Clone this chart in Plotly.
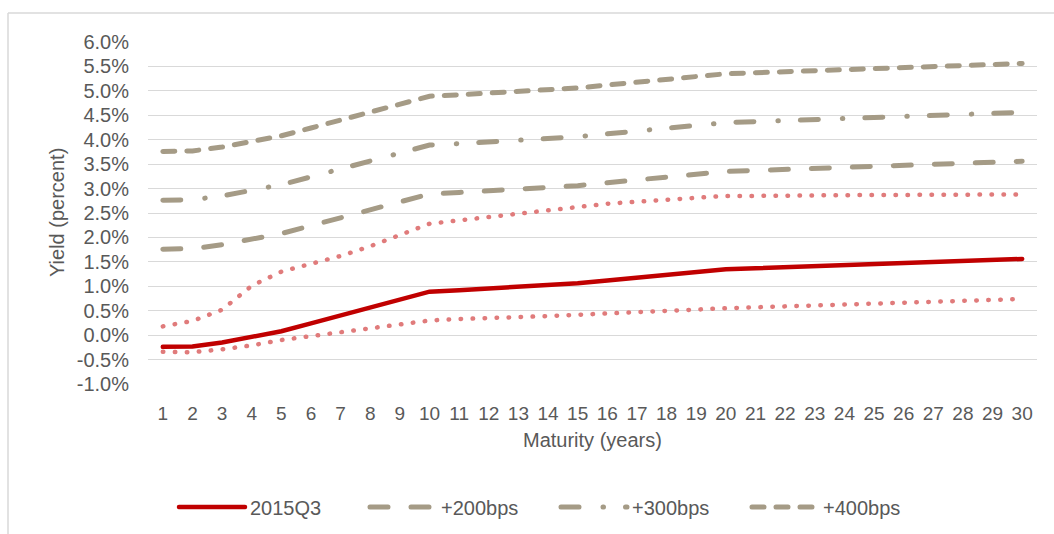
import plotly.graph_objects as go

maturity = [str(i) for i in range(1, 31)]
y_ticks = [-1.0, -0.5, 0.0, 0.5, 1.0, 1.5, 2.0, 2.5, 3.0, 3.5, 4.0, 4.5, 5.0, 5.5, 6.0]

base_2015q3 = [-0.24, -0.23, -0.15, -0.04, 0.08, 0.24, 0.40, 0.56, 0.72, 0.89,
               0.92, 0.95, 0.98, 1.02, 1.06, 1.12, 1.18, 1.24, 1.29, 1.35,
               1.37, 1.39, 1.41, 1.43, 1.45, 1.47, 1.49, 1.51, 1.53, 1.56]
plus_200 = [1.76, 1.77, 1.85, 1.96, 2.08, 2.24, 2.40, 2.56, 2.72, 2.89,
            2.92, 2.95, 2.98, 3.02, 3.06, 3.12, 3.18, 3.24, 3.29, 3.35,
            3.37, 3.39, 3.41, 3.43, 3.45, 3.47, 3.49, 3.51, 3.53, 3.56]
plus_300 = [2.76, 2.77, 2.85, 2.96, 3.08, 3.24, 3.40, 3.56, 3.72, 3.89,
            3.92, 3.95, 3.98, 4.02, 4.06, 4.12, 4.18, 4.24, 4.29, 4.35,
            4.37, 4.39, 4.41, 4.43, 4.45, 4.47, 4.49, 4.51, 4.53, 4.56]
plus_400 = [3.76, 3.77, 3.85, 3.96, 4.08, 4.24, 4.40, 4.56, 4.72, 4.89,
            4.92, 4.95, 4.98, 5.02, 5.06, 5.12, 5.18, 5.24, 5.29, 5.35,
            5.37, 5.39, 5.41, 5.43, 5.45, 5.47, 5.49, 5.51, 5.53, 5.56]
upper_band = [0.18, 0.29, 0.52, 1.01, 1.30, 1.46, 1.62, 1.82, 2.05, 2.28,
              2.35, 2.42, 2.49, 2.57, 2.63, 2.69, 2.73, 2.77, 2.82, 2.85,
              2.85, 2.86, 2.86, 2.86, 2.87, 2.87, 2.87, 2.88, 2.88, 2.88]
lower_band = [-0.34, -0.35, -0.29, -0.21, -0.10, -0.02, 0.06, 0.14, 0.22, 0.30,
              0.33, 0.36, 0.37, 0.39, 0.42, 0.44, 0.47, 0.49, 0.52, 0.55,
              0.57, 0.59, 0.61, 0.63, 0.64, 0.66, 0.68, 0.70, 0.72, 0.74]

RED = "#C00000"
PINK = "#E07B7B"
GRAY = "#A59B86"
TXT = "#595959"
FONT = "Liberation Sans, Arial, sans-serif"

fig = go.Figure()

for band in (upper_band, lower_band):
    fig.add_trace(go.Scatter(x=maturity, y=band, mode="lines", showlegend=False,
                             hoverinfo="skip",
                             line=dict(color=PINK, width=4.5, dash="0.5px,11.5px")))

fig.add_trace(go.Scatter(x=maturity, y=plus_200, mode="lines", name="+200bps", legendrank=2,
                         line=dict(color=GRAY, width=5, dash="18px,23px")))
fig.add_trace(go.Scatter(x=maturity, y=plus_300, mode="lines", name="+300bps", legendrank=3,
                         line=dict(color=GRAY, width=5, dash="18px,24px,0.5px,22px")))
fig.add_trace(go.Scatter(x=maturity, y=plus_400, mode="lines", name="+400bps", legendrank=4,
                         line=dict(color=GRAY, width=5, dash="12px,12px")))
fig.add_trace(go.Scatter(x=maturity, y=base_2015q3, mode="lines", name="2015Q3", legendrank=1,
                         line=dict(color=RED, width=4.5)))

L, R, T, B = 148, 17, 42, 150
W, H = 1054, 534
pw, ph = W - L - R, H - T - B

def px_x(px):
    return (px - L) / pw

def px_y(py):
    return (H - B - py) / ph

fig.update_layout(
    width=W, height=H,
    margin=dict(l=L, r=R, t=T, b=B, autoexpand=False),
    paper_bgcolor="white", plot_bgcolor="white",
    font=dict(family=FONT, size=19, color=TXT),
    showlegend=True,
    legend=dict(orientation="h", x=px_x(174), xanchor="left", y=px_y(507), yanchor="middle",
                font=dict(family=FONT, size=20, color=TXT), itemwidth=66,
                entrywidth=110, entrywidthmode="pixels",
                traceorder="normal"),
    xaxis=dict(type="category", range=[-0.5, 29.5], showgrid=False, zeroline=False,
               showline=False, ticks="", tickfont=dict(size=19, color=TXT),
               ticklabelstandoff=16, fixedrange=True),
    yaxis=dict(range=[-1, 6], tickvals=y_ticks, ticktext=[f"{v:.1f}%" for v in y_ticks],
               showgrid=True, gridcolor="#D9D9D9", gridwidth=1.3, zeroline=False,
               showline=False, ticks="", tickfont=dict(size=20, color=TXT),
               ticklabelstandoff=18, fixedrange=True),
    annotations=[
        dict(text="Maturity (years)", xref="paper", yref="paper", x=px_x(592), y=px_y(440),
             xanchor="center", yanchor="middle", showarrow=False,
             font=dict(family=FONT, size=20, color=TXT)),
        dict(text="Yield (percent)", xref="paper", yref="paper", x=px_x(57), y=px_y(213),
             xanchor="center", yanchor="middle", showarrow=False, textangle=-90,
             font=dict(family=FONT, size=20, color=TXT)),
    ],
    shapes=[
        dict(type="line", xref="paper", yref="paper", x0=px_x(8), x1=px_x(1060),
             y0=px_y(13), y1=px_y(13), line=dict(color="#D9D9D9", width=1.5)),
        dict(type="line", xref="paper", yref="paper", x0=px_x(8), x1=px_x(8),
             y0=px_y(13), y1=px_y(540), line=dict(color="#D9D9D9", width=1.5)),
    ],
)

post = """
document.body.style.margin = '0';
document.body.style.padding = '0';
var gd = document.getElementById('{plot_id}');
function rc(){ document.querySelectorAll('path.js-line').forEach(function(p){ p.style.strokeLinecap='round'; }); }
rc(); if (gd && gd.on) { gd.on('plotly_afterplot', rc); } setTimeout(rc, 50); setTimeout(rc, 300);
"""

fig.write_html("out.html", post_script=post, config={"displayModeBar": False})
